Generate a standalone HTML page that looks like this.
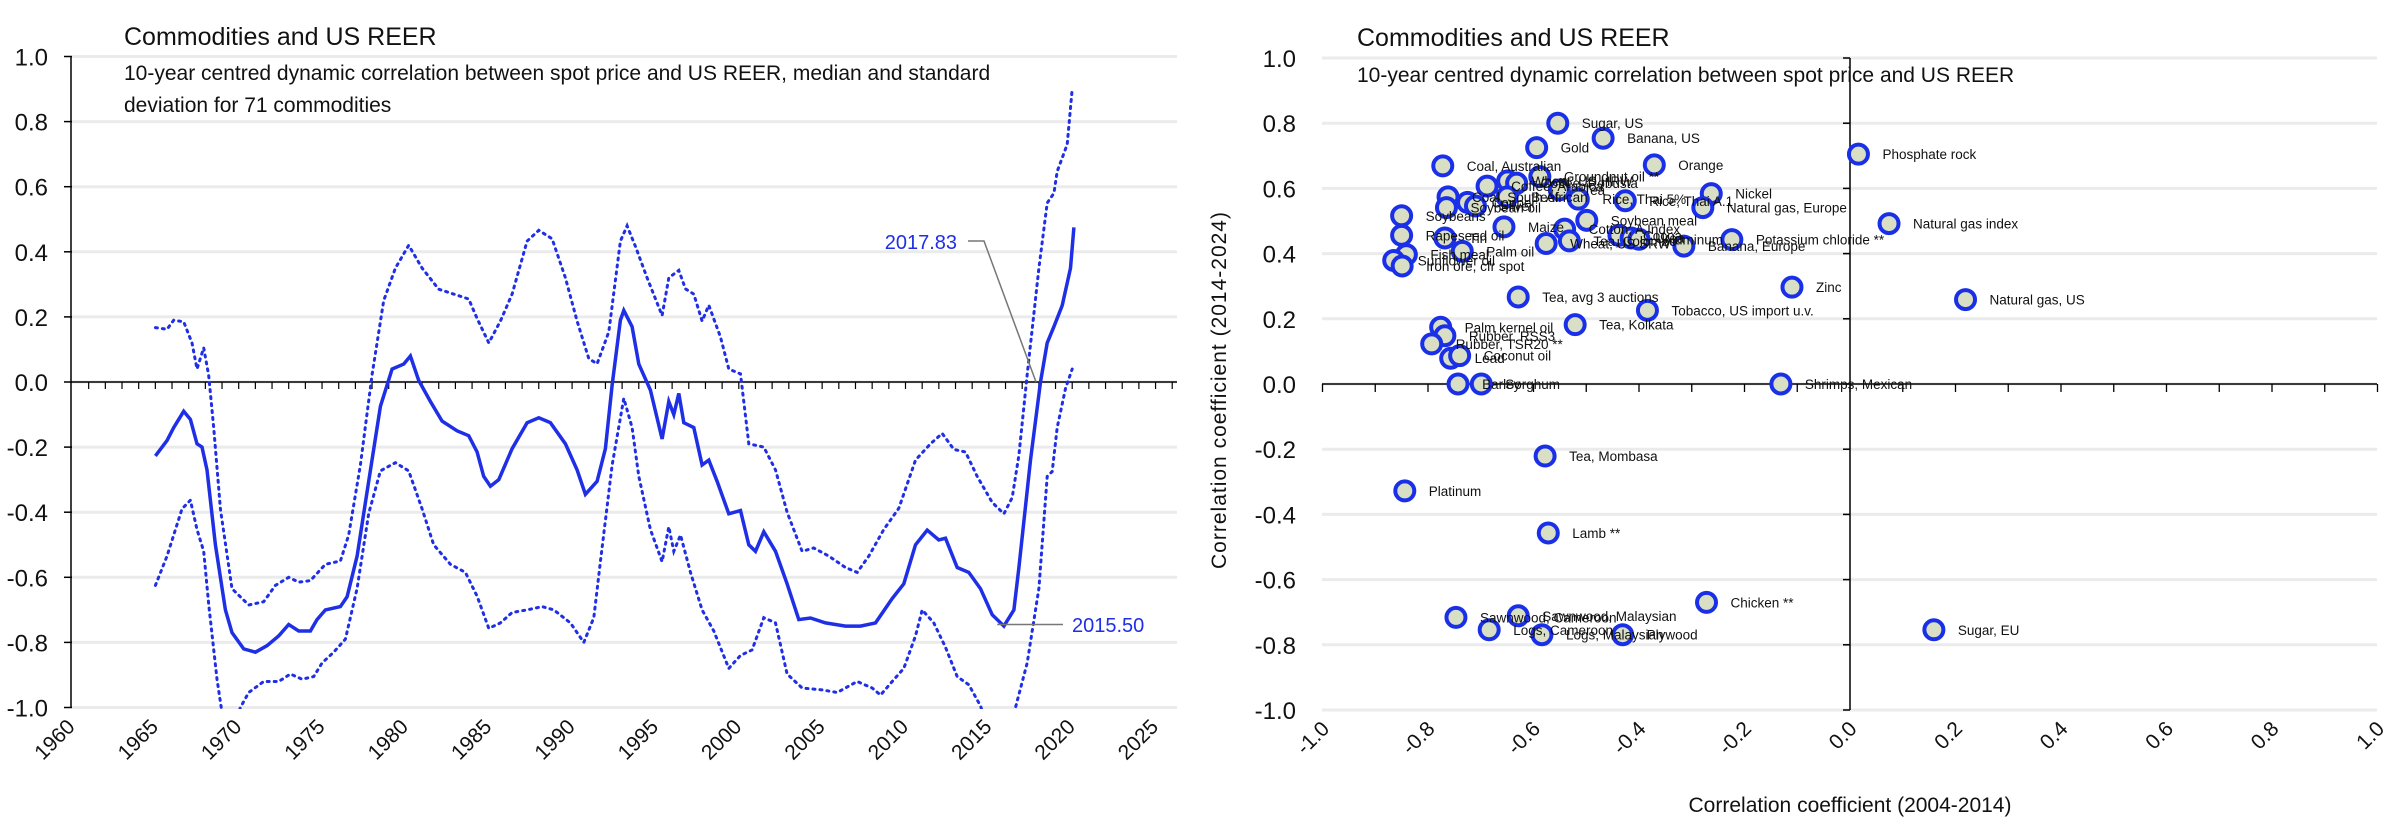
<!DOCTYPE html>
<html><head><meta charset="utf-8">
<style>
html,body{margin:0;padding:0;background:#fff;}
svg{display:block;font-family:"Liberation Sans",sans-serif;}
</style></head>
<body>
<svg id="c" width="2400" height="828" viewBox="0 0 2400 828" xmlns="http://www.w3.org/2000/svg">
<defs>
<clipPath id="clipL"><rect x="72" y="50" width="1106" height="659"/></clipPath>
</defs>
<g id="left"></g>
<g id="right"></g>
</svg>
<script>
// ---------- Left chart data ----------
const yearTicks = [1960,1965,1970,1975,1980,1985,1990,1995,2000,2005,2010,2015,2020,2025];
const yTicksL = [1.0,0.8,0.6,0.4,0.2,0.0,-0.2,-0.4,-0.6,-0.8,-1.0];
const medianYears = [1965,1965.7,1966.1,1966.7,1967.1,1967.5,1967.8,1968.1,1968.6,1969.2,1969.6,1970.3,1971,1971.7,1972.4,1973,1973.6,1974.3,1974.7,1975.2,1976.1,1976.5,1977.1,1977.8,1978.5,1979.2,1979.9,1980.3,1980.8,1981.5,1982.2,1983.1,1983.8,1984.3,1984.7,1985.1,1985.6,1986.4,1987.3,1988,1988.7,1989.6,1990.3,1990.8,1991.5,1992,1992.4,1992.9,1993.1,1993.6,1994,1994.7,1995.4,1995.8,1996.1,1996.4,1996.7,1997.3,1997.8,1998.2,1998.7,1999.4,2000.1,2000.6,2001,2001.5,2002.2,2002.9,2003.6,2004.3,2005.2,2006.4,2007.3,2008.2,2009.2,2009.9,2010.6,2011.3,2012,2012.4,2013.1,2013.8,2014.5,2015.2,2015.9,2016.5,2016.8,2017.5,2018.1,2018.5,2018.9,2019.4,2019.9,2020.1];
const medianVals = [-0.227,-0.18,-0.14,-0.09,-0.115,-0.19,-0.2,-0.27,-0.50,-0.70,-0.77,-0.82,-0.83,-0.81,-0.78,-0.745,-0.765,-0.765,-0.73,-0.70,-0.69,-0.66,-0.535,-0.305,-0.075,0.04,0.055,0.08,0.005,-0.06,-0.12,-0.15,-0.165,-0.215,-0.29,-0.32,-0.30,-0.205,-0.125,-0.11,-0.125,-0.19,-0.27,-0.345,-0.305,-0.205,-0.01,0.19,0.22,0.17,0.055,-0.025,-0.175,-0.06,-0.1,-0.035,-0.125,-0.14,-0.255,-0.24,-0.305,-0.405,-0.395,-0.50,-0.52,-0.46,-0.52,-0.62,-0.73,-0.725,-0.74,-0.75,-0.75,-0.74,-0.665,-0.62,-0.50,-0.455,-0.485,-0.48,-0.57,-0.585,-0.635,-0.715,-0.75,-0.70,-0.57,-0.24,0.0,0.12,0.17,0.235,0.35,0.475];
const upperYears = [1965,1965.7,1966.1,1966.7,1967.2,1967.5,1967.9,1968.2,1968.5,1968.9,1969.6,1970.6,1971.5,1972.2,1973,1973.6,1974.3,1975.2,1976.1,1976.6,1977.3,1978,1978.7,1979.4,1980.2,1981,1982,1982.9,1983.8,1984.3,1985,1985.7,1986.4,1987.3,1988,1988.8,1989.6,1990.3,1991,1991.5,1992.2,1992.9,1993.3,1993.8,1994.5,1995.4,1995.8,1996.4,1996.8,1997.3,1997.8,1998.2,1998.9,1999.4,2000.1,2000.6,2001.5,2002.2,2002.9,2003.8,2004.5,2005.4,2006.4,2007.1,2007.8,2008.7,2009.6,2010.6,2011.5,2012.2,2012.9,2013.6,2014.3,2015.2,2015.9,2016.4,2016.8,2017.3,2018,2018.5,2018.9,2019.1,2019.7,2020];
const upperVals = [0.167,0.162,0.19,0.185,0.12,0.04,0.105,0.02,-0.14,-0.39,-0.635,-0.685,-0.675,-0.625,-0.60,-0.615,-0.61,-0.56,-0.55,-0.47,-0.255,0.023,0.25,0.35,0.42,0.35,0.285,0.27,0.255,0.195,0.12,0.187,0.27,0.433,0.466,0.44,0.32,0.187,0.072,0.056,0.154,0.433,0.48,0.417,0.32,0.204,0.32,0.343,0.286,0.27,0.187,0.236,0.138,0.04,0.025,-0.19,-0.2,-0.27,-0.40,-0.52,-0.51,-0.535,-0.57,-0.585,-0.535,-0.453,-0.388,-0.24,-0.19,-0.158,-0.207,-0.215,-0.29,-0.37,-0.405,-0.355,-0.225,0.023,0.35,0.55,0.58,0.647,0.73,0.90];
const lowerYears = [1965,1965.7,1966.6,1967.1,1967.5,1967.9,1968.2,1968.7,1969.1,1969.6,1970.1,1970.6,1971.5,1972.4,1973.1,1973.8,1974.5,1975,1975.7,1976.4,1977.1,1977.8,1978.5,1979.4,1980.2,1981,1981.7,1982.7,1983.6,1984.3,1985,1985.7,1986.4,1987.3,1988.2,1988.9,1989.9,1990.7,1991.3,1991.7,1992.4,1993.1,1993.6,1994,1994.7,1995.4,1995.8,1996.1,1996.5,1997.1,1997.8,1998.5,1999.4,2000.1,2000.8,2001.5,2002.2,2002.9,2003.8,2005,2005.9,2007.1,2008,2008.5,2009.2,2009.9,2010.6,2011,2011.7,2012.4,2013.1,2013.8,2014.5,2015.5,2016.6,2017.3,2018,2018.5,2018.8,2019.1,2019.6,2020];
const lowerVals = [-0.625,-0.535,-0.39,-0.363,-0.453,-0.52,-0.683,-0.913,-1.05,-1.08,-1.0,-0.954,-0.92,-0.92,-0.897,-0.913,-0.905,-0.863,-0.83,-0.79,-0.634,-0.404,-0.273,-0.248,-0.273,-0.39,-0.50,-0.56,-0.585,-0.658,-0.757,-0.74,-0.708,-0.70,-0.69,-0.70,-0.74,-0.80,-0.724,-0.552,-0.256,-0.05,-0.14,-0.29,-0.453,-0.552,-0.445,-0.52,-0.47,-0.585,-0.70,-0.765,-0.88,-0.84,-0.823,-0.724,-0.74,-0.897,-0.94,-0.946,-0.954,-0.92,-0.94,-0.962,-0.92,-0.88,-0.78,-0.70,-0.74,-0.815,-0.905,-0.93,-0.995,-1.15,-1.0,-0.863,-0.634,-0.29,-0.275,-0.14,-0.02,0.04];

// ---------- Right chart data ----------
const scatterX = [-0.554,-0.468,-0.594,-0.371,0.016,-0.772,-0.588,-0.688,-0.649,-0.632,-0.762,-0.765,-0.725,-0.71,-0.65,-0.551,-0.515,-0.426,-0.263,-0.279,0.074,-0.85,-0.85,-0.768,-0.656,-0.541,-0.499,-0.576,-0.532,-0.438,-0.415,-0.4,-0.315,-0.224,-0.735,-0.841,-0.865,-0.849,-0.629,-0.384,-0.11,0.219,-0.521,-0.776,-0.768,-0.793,-0.757,-0.74,-0.743,-0.699,-0.131,-0.578,-0.844,-0.572,-0.272,-0.747,-0.629,-0.684,-0.584,-0.431,0.159];
const scatterY = [0.80,0.754,0.725,0.672,0.705,0.669,0.636,0.607,0.623,0.616,0.574,0.541,0.557,0.546,0.574,0.595,0.567,0.562,0.584,0.541,0.492,0.516,0.456,0.448,0.482,0.475,0.502,0.431,0.439,0.456,0.448,0.444,0.423,0.443,0.407,0.397,0.379,0.362,0.267,0.226,0.297,0.259,0.182,0.174,0.148,0.123,0.079,0.087,0.0,0.0,0.0,-0.221,-0.328,-0.457,-0.67,-0.716,-0.711,-0.754,-0.769,-0.769,-0.754];
const scatterLabels = ["Sugar, US","Banana, US","Gold","Orange","Phosphate rock","Coal, Australian","Groundnut oil **","Coffee, Arabica","Wheat, US HRW","Coffee, Robusta","Coal, South African","Soybean oil","Copper","Silver","Beef","Tea","Rice, Thai 5%","Rice, Thai A.1","Nickel","Natural gas, Europe","Natural gas index","Soybeans","Rapeseed oil","Tin","Maize","Cotton, A Index","Soybean meal","Wheat, US SRW","Tea, Colombo","Cocoa","Urea","Aluminum","Banana, Europe","Potassium chloride **","Palm oil","Fish meal","Sunflower oil","Iron ore, cfr spot","Tea, avg 3 auctions","Tobacco, US import u.v.","Zinc","Natural gas, US","Tea, Kolkata","Palm kernel oil","Rubber, RSS3","Rubber, TSR20 **","Lead","Coconut oil","Barley","Sorghum","Shrimps, Mexican","Tea, Mombasa","Platinum","Lamb **","Chicken **","Sawnwood, Cameroon","Sawnwood, Malaysian","Logs, Cameroon","Logs, Malaysian","Plywood","Sugar, EU"];
const xTicksR = [-1.0,-0.8,-0.6,-0.4,-0.2,0.0,0.2,0.4,0.6,0.8,1.0];
const yTicksR = [1.0,0.8,0.6,0.4,0.2,0.0,-0.2,-0.4,-0.6,-0.8,-1.0];

const NS = "http://www.w3.org/2000/svg";
function mk(parent, tag, attrs, text){
  const e = document.createElementNS(NS, tag);
  for (const k in attrs) e.setAttribute(k, attrs[k]);
  if (text !== undefined) e.textContent = text;
  parent.appendChild(e);
  return e;
}
const L = document.getElementById('left');
const R = document.getElementById('right');

// Left axes
const xL = y => 72 + (y - 1960) * 16.67;
const yL = v => 382 - v * 325.5;

yTicksL.forEach(v => {
  const g = mk(L, 'line', {x1:72, x2:1177, y1:yL(v), y2:yL(v), stroke:'#ebebeb', 'stroke-width':3});
  
  
  const t = mk(L, 'text', {x:48, y:yL(v)+9, 'font-size':24, 'text-anchor':'end', fill:'#111'}, v.toFixed(1));
  
  
  mk(L, 'line', {x1:64, x2:72, y1:yL(v), y2:yL(v), stroke:'#000', 'stroke-width':1.5});
});
const ax = mk(L, 'line', {x1:71, x2:71, y1:yL(1), y2:yL(-1), stroke:'#000', 'stroke-width':1.5});


const zx = mk(L, 'line', {x1:71, x2:1177, y1:yL(0), y2:yL(0), stroke:'#000', 'stroke-width':1.5});


for (let y = 1961; y <= 2026; y++) {
  mk(L, 'line', {x1:xL(y), x2:xL(y), y1:yL(0), y2:yL(0)+7, stroke:'#000', 'stroke-width':1.2});
}
yearTicks.forEach(y => {
  const t = mk(L, 'text', {x:0, y:0, 'font-size':21, 'text-anchor':'end', fill:'#111',
    transform:`translate(${xL(y)+4},${728}) rotate(-45)`}, String(y));
  
  
});

function pathFrom(xs, ys){
  return xs.map((x,i) => (i ? 'L' : 'M') + xL(x).toFixed(1) + ',' + yL(ys[i]).toFixed(1)).join(' ');
}
const pu = mk(L, 'path', {d:pathFrom(upperYears, upperVals), fill:'none', stroke:'#1f2fe6', 'stroke-width':3, 'stroke-dasharray':'2 5', 'stroke-linecap':'round', 'clip-path':'url(#clipL)'});


const pl = mk(L, 'path', {d:pathFrom(lowerYears, lowerVals), fill:'none', stroke:'#1f2fe6', 'stroke-width':3, 'stroke-dasharray':'2 5', 'stroke-linecap':'round', 'clip-path':'url(#clipL)'});


const pm = mk(L, 'path', {d:pathFrom(medianYears, medianVals), fill:'none', stroke:'#1f2fe6', 'stroke-width':3.5, 'clip-path':'url(#clipL)'});



// annotations
mk(L, 'polyline', {points:`968,241 984,241 ${xL(2017.83)},${yL(0)}`, fill:'none', stroke:'#777', 'stroke-width':1.5});
const a1 = mk(L, 'text', {x:957, y:249, 'font-size':20, 'text-anchor':'end', fill:'#1f2fe6'}, '2017.83');


mk(L, 'line', {x1:xL(2015.5), x2:1063, y1:yL(-0.745), y2:yL(-0.745), stroke:'#777', 'stroke-width':1.5});
const a2 = mk(L, 'text', {x:1072, y:632, 'font-size':20, fill:'#1f2fe6'}, '2015.50');



// left titles
const lt = mk(L, 'text', {x:124, y:45, 'font-size':25, fill:'#111'}, 'Commodities and US REER');


const ls1 = mk(L, 'text', {x:124, y:80, 'font-size':21, fill:'#111'}, '10-year centred dynamic correlation between spot price and US REER, median and standard');


mk(L, 'text', {x:124, y:112, 'font-size':21, fill:'#111'}, 'deviation for 71 commodities');

// ---------- Right chart ----------
const xR = v => 1850 + v * 527.5;
const yR = v => 384 - v * 326;
yTicksR.forEach(v => {
  const g = mk(R, 'line', {x1:1322, x2:2377, y1:yR(v), y2:yR(v), stroke:'#ebebeb', 'stroke-width':3});
  
  
  const t = mk(R, 'text', {x:1296, y:yR(v)+9, 'font-size':24, 'text-anchor':'end', fill:'#111'}, v.toFixed(1));
  
  
  mk(R, 'line', {x1:1843, x2:1850, y1:yR(v), y2:yR(v), stroke:'#000', 'stroke-width':1.5});
});
const yax = mk(R, 'line', {x1:1850, x2:1850, y1:yR(1), y2:yR(-1), stroke:'#000', 'stroke-width':1.5});


const xax = mk(R, 'line', {x1:1322, x2:2377, y1:yR(0), y2:yR(0), stroke:'#000', 'stroke-width':1.5});


for (let i = -10; i <= 10; i++) {
  mk(R, 'line', {x1:xR(i/10), x2:xR(i/10), y1:yR(0), y2:yR(0)+8, stroke:'#000', 'stroke-width':1.3});
}
xTicksR.forEach(v => {
  const t = mk(R, 'text', {x:0, y:0, 'font-size':21, 'text-anchor':'end', fill:'#111',
    transform:`translate(${xR(v)+8},${730}) rotate(-45)`}, v.toFixed(1));
  
  
});

scatterX.forEach((x, i) => {
  const c = mk(R, 'circle', {cx:xR(x), cy:yR(scatterY[i]), r:9.5, fill:'#d9dfc4', stroke:'#1a2fe8', 'stroke-width':4});
  
  
});
scatterX.forEach((x, i) => {
  const t = mk(R, 'text', {x:xR(x)+24, y:yR(scatterY[i])+5, 'font-size':13.5, fill:'#111'}, scatterLabels[i]);
  
  
});

const rt = mk(R, 'text', {x:1357, y:46, 'font-size':25, fill:'#111'}, 'Commodities and US REER');


const rs = mk(R, 'text', {x:1357, y:82, 'font-size':21, fill:'#111'}, '10-year centred dynamic correlation between spot price and US REER');


const yt = mk(R, 'text', {x:0, y:0, 'font-size':21, 'text-anchor':'middle', fill:'#111', 'letter-spacing':'1',
  transform:'translate(1226,390) rotate(-90)'}, 'Correlation coefficient (2014-2024)');


const xt = mk(R, 'text', {x:1850, y:812, 'font-size':21, 'text-anchor':'middle', fill:'#111'}, 'Correlation coefficient (2004-2014)');


</script>
</body></html>
